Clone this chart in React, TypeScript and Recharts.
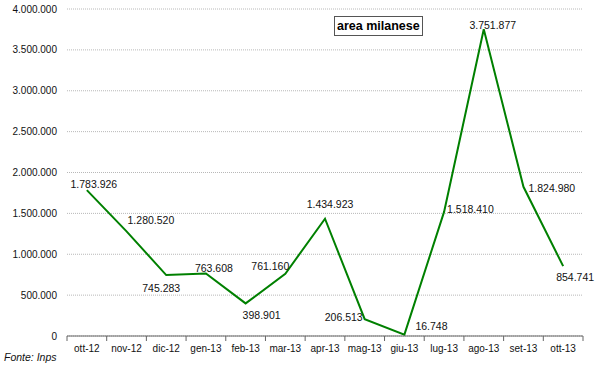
import { LineChart, Line, XAxis, YAxis, CartesianGrid, LabelList } from "recharts";

const months = ["ott-12", "nov-12", "dic-12", "gen-13", "feb-13", "mar-13", "apr-13", "mag-13", "giu-13", "lug-13", "ago-13", "set-13", "ott-13"];
const values = [1783926, 1280520, 745283, 763608, 398901, 761160, 1434923, 206513, 16748, 1518410, 3751877, 1824980, 854741];
const yTicks = [0, 500000, 1000000, 1500000, 2000000, 2500000, 3000000, 3500000, 4000000];

// label placement next to each point: [dx, dy, anchor]
const labelOffsets: [number, number, "start" | "middle" | "end"][] = [
  [7, -2, "middle"],
  [1, -7, "start"],
  [-5, 17, "middle"],
  [-11, -2, "start"],
  [-3, 16, "start"],
  [4, -4, "end"],
  [5, -11, "middle"],
  [-2, 2, "end"],
  [11, -5, "start"],
  [3, 1, "start"],
  [9, 0, "middle"],
  [5, 5, "start"],
  [-7, 15, "start"],
];

const data = months.map((m, i) => ({ month: m, value: values[i] }));

const fmt = (v: number) => v.toLocaleString("de-DE");

const FONT = "'Liberation Sans', Arial, sans-serif";
const BAND = 516 / 13;

const ValueLabel = (props: any) => {
  const { x, y, value, index } = props;
  const [dx, dy, anchor] = labelOffsets[index];
  return (
    <text x={x + dx} y={y + dy} textAnchor={anchor} fontSize={10.5} fontFamily={FONT} fill="#111">
      {fmt(value)}
    </text>
  );
};

const MonthTick = (props: any) => {
  const { x, y, payload, index } = props;
  return (
    <g>
      <line x1={x - BAND / 2} y1={y - 8} x2={x - BAND / 2} y2={y - 3} stroke="#666" />
      {index === months.length - 1 && (
        <line x1={x + BAND / 2} y1={y - 8} x2={x + BAND / 2} y2={y - 3} stroke="#666" />
      )}
      <text x={x} y={y + 8} textAnchor="middle" fontSize={10} fontFamily={FONT} fill="#111">
        {payload.value}
      </text>
    </g>
  );
};

export default function App() {
  return (
    <div style={{ position: "absolute", left: 0, top: 0, width: 600, height: 369, background: "#fff" }}>
      <LineChart width={600} height={369} data={data} margin={{ top: 9, right: 17, bottom: 9, left: 0 }}>
        <CartesianGrid vertical={false} stroke="#b8b8b8" strokeDasharray="1 1" />
        <XAxis
          dataKey="month"
          stroke="#666"
          tickLine={false}
          tick={<MonthTick />}
          height={24}
          interval={0}
          padding={{ left: BAND / 2, right: BAND / 2 }}
        />
        <YAxis
          domain={[0, 4000000]}
          ticks={yTicks}
          tickFormatter={fmt}
          axisLine={false}
          tickLine={false}
          width={67}
          tick={{ fontSize: 10, fontFamily: FONT, fill: "#111" }}
          tickMargin={4}
        />
        <Line
          type="linear"
          dataKey="value"
          stroke="#008000"
          strokeWidth={2}
          dot={false}
          isAnimationActive={false}
        >
          <LabelList dataKey="value" content={<ValueLabel />} />
        </Line>
      </LineChart>
      <div
        style={{
          position: "absolute",
          left: 334,
          top: 16,
          padding: "1px 2px",
          border: "1px solid #555",
          fontFamily: FONT,
          fontWeight: "bold",
          fontSize: 12.5,
          lineHeight: "16px",
          color: "#000",
          background: "#fff",
        }}
      >
        area milanese
      </div>
      <div
        style={{
          position: "absolute",
          left: 4,
          top: 351,
          fontFamily: FONT,
          fontStyle: "italic",
          fontSize: 10.5,
          color: "#111",
        }}
      >
        Fonte: Inps
      </div>
    </div>
  );
}
